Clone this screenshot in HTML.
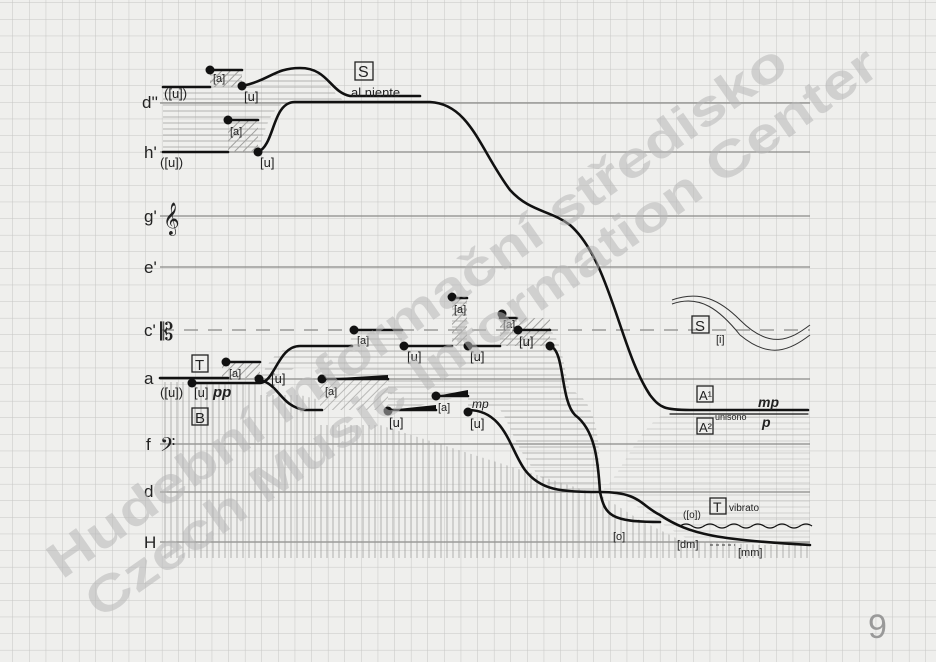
<!DOCTYPE html>
<html><head><style>
html,body{margin:0;padding:0}
body{width:936px;height:662px;background:#efefed;position:relative;overflow:hidden;font-family:"Liberation Sans",sans-serif}
</style></head><body>
<svg width="936" height="662" viewBox="0 0 936 662" xmlns="http://www.w3.org/2000/svg" style="position:absolute;left:0;top:0">
<defs>
<pattern id="grid" x="13" y="3" width="16.6" height="16.6" patternUnits="userSpaceOnUse">
<path d="M16.6 0V16.6M0 16.6H16.6" stroke="#c6c6c4" stroke-width="1" fill="none"/>
</pattern>
<pattern id="vert" width="6" height="10" patternUnits="userSpaceOnUse">
<path d="M3 0V10" stroke="#9a9a98" stroke-width="0.9"/>
</pattern>
<pattern id="hor" width="10" height="6" patternUnits="userSpaceOnUse">
<path d="M0 3H10" stroke="#a5a5a3" stroke-width="0.9"/>
</pattern>
<pattern id="diag" width="6" height="6" patternUnits="userSpaceOnUse" patternTransform="rotate(45)">
<path d="M3 0V6" stroke="#a0a09e" stroke-width="1"/>
</pattern>
</defs>
<rect width="936" height="662" fill="url(#grid)"/>
<g stroke="#8a8a88" stroke-width="1.3">
<line x1="160" y1="103" x2="810" y2="103"/>
<line x1="160" y1="152" x2="810" y2="152"/>
<line x1="160" y1="216" x2="810" y2="216"/>
<line x1="160" y1="267" x2="810" y2="267"/>
<line x1="160" y1="330" x2="810" y2="330" stroke-dasharray="14,10"/>
<line x1="160" y1="379" x2="810" y2="379"/>
<line x1="160" y1="444" x2="810" y2="444"/>
<line x1="160" y1="492" x2="810" y2="492"/>
<line x1="160" y1="542" x2="810" y2="542"/>
</g>
<path d="M163 382 L258 382 L258 395 L300 395 L320 400 L320 425 L380 425 L600 495 L640 520 L680 540 L760 545 L810 545 L810 558 L163 558 Z" fill="url(#vert)" opacity="0.8"/>
<path d="M163 87 L210 87 L210 70 L242 70 L242 85 C270 78 280 68 300 68 C330 68 330 100 350 102 L290 102 C270 102 262 140 258 152 L163 152 Z" fill="url(#hor)" opacity="0.9"/>
<rect x="210" y="70" width="32" height="17" fill="url(#diag)"/>
<rect x="228" y="120" width="30" height="32" fill="url(#diag)"/>
<path d="M260 378 C280 340 290 346 350 346 L352 330 L402 330 L402 346 L452 346 L452 298 L467 298 L467 346 L500 346 L500 318 L517 318 L517 330 L550 330 C565 345 565 380 570 390 C600 400 600 450 600 492 L560 492 C520 470 510 420 500 410 L468 410 L468 395 L400 410 L388 410 L388 380 L320 380 L320 365 C290 362 290 378 260 378 Z" fill="url(#hor)" opacity="0.85"/>
<rect x="222" y="362" width="38" height="16" fill="url(#diag)"/>
<rect x="320" y="380" width="68" height="30" fill="url(#diag)" opacity="0.7"/>
<rect x="452" y="298" width="15" height="48" fill="url(#diag)"/>
<rect x="500" y="318" width="50" height="28" fill="url(#diag)"/>
<path d="M600 492 C630 495 650 520 690 540 L810 545 L810 412 L670 412 C640 420 620 480 600 492 Z" fill="url(#hor)" opacity="0.45"/>
<g stroke="#111" stroke-width="2.6" fill="none" stroke-linecap="round">
<path d="M163 87 H210"/><path d="M210 70 H242"/>
<path d="M242 86 C270 80 275 68 300 68 C328 68 330 92 350 96 H420"/>
<path d="M163 152 H228"/><path d="M228 120 H258"/>
<path d="M258 152 C275 145 272 102 295 102 H430 C470 104 480 150 510 190 C530 212 550 210 570 225 C610 260 620 350 650 395 C660 408 665 410 690 410 H808"/>
<path d="M670 414 H808" stroke-width="1.2"/>
<path d="M160 378 H228"/><path d="M226 362 H260"/>
<path d="M190 383 H260 C275 382 278 346 300 346 H352"/>
<path d="M260 380 C280 385 280 406 305 410 H322" />
<path d="M322 379 H388"/>
<path d="M352 330 H402"/><path d="M402 346 H452"/><path d="M452 298 H467"/>
<path d="M467 346 H500"/><path d="M500 318 H517"/><path d="M517 330 H550"/>
<path d="M550 346 C565 350 560 400 575 415 C595 430 598 460 600 492"/>
<path d="M388 410 H436"/><path d="M436 396 H468"/>
<path d="M468 410 C505 410 510 450 525 470 C540 490 560 492 600 492 C640 492 640 505 660 515 C690 535 720 540 810 545"/>
<path d="M600 492 C605 515 610 522 660 522"/>
</g>
<g fill="#111">
<circle cx="210" cy="70" r="4.5"/><circle cx="242" cy="86" r="4.5"/><circle cx="228" cy="120" r="4.5"/><circle cx="258" cy="152" r="4.5"/>
<circle cx="226" cy="362" r="4.5"/><circle cx="192" cy="383" r="4.5"/><circle cx="259" cy="379" r="4.5"/><circle cx="322" cy="379" r="4.5"/>
<circle cx="354" cy="330" r="4.5"/><circle cx="404" cy="346" r="4.5"/><circle cx="452" cy="297" r="4.5"/><circle cx="468" cy="346" r="4.5"/>
<circle cx="502" cy="314" r="4.5"/><circle cx="518" cy="330" r="4.5"/><circle cx="550" cy="346" r="4.5"/>
<circle cx="388" cy="411" r="4.5"/><circle cx="436" cy="396" r="4.5"/><circle cx="468" cy="412" r="4.5"/>
<polygon points="388,410 436,410 436,405"/><polygon points="436,396 468,396 468,390"/><polygon points="322,379 388,379 388,375"/>
</g>
<g stroke="#333" stroke-width="1" fill="none">
<path d="M672 300 C700 290 720 300 740 320 C770 350 790 340 810 325"/>
<path d="M672 304 C700 294 720 310 740 335 C770 360 790 350 810 335"/>
<path d="M680 526 q6 -4 12 0 t12 0 t12 0 t12 0 t12 0 t12 0 t12 0 t12 0 t12 0 t12 0 t12 0" stroke="#111" stroke-width="1.3"/>
<path d="M710 545 H735" stroke-dasharray="3,3"/>
</g>
<g fill="none" stroke="#222" stroke-width="1.3">
<rect x="355" y="62" width="18" height="18"/><rect x="192" y="355" width="16" height="17"/><rect x="192" y="408" width="16" height="17"/>
<rect x="692" y="316" width="17" height="17"/><rect x="697" y="386" width="16" height="16"/><rect x="697" y="418" width="16" height="16"/><rect x="710" y="498" width="16" height="16"/>
</g>
<g font-family="Liberation Sans, sans-serif" fill="#222" font-size="13">
<text x="358" y="77" font-size="16">S</text><text x="351" y="97">al niente</text>
<text x="195" y="370" font-size="15">T</text><text x="195" y="423" font-size="15">B</text>
<text x="695" y="331" font-size="15">S</text><text x="699" y="400" font-size="13">A¹</text><text x="699" y="432" font-size="13">A²</text><text x="713" y="512" font-size="14">T</text>
<text x="729" y="511" font-size="10">vibrato</text><text x="715" y="420" font-size="9">unisono</text>
<text x="758" y="407" font-style="italic" font-weight="bold" font-size="14">mp</text><text x="762" y="427" font-style="italic" font-weight="bold" font-size="14">p</text>
<text x="472" y="408" font-style="italic" font-size="12">mp</text><text x="213" y="397" font-style="italic" font-weight="bold" font-size="15">pp</text>
<text x="213" y="82" font-size="11">[a]</text><text x="244" y="101">[u]</text><text x="230" y="135" font-size="11">[a]</text><text x="260" y="167">[u]</text>
<text x="164" y="98">([u])</text><text x="160" y="167">([u])</text>
<text x="229" y="377" font-size="11">[a]</text><text x="194" y="397">[u]</text><text x="160" y="397">([u])</text><text x="271" y="383">[u]</text>
<text x="325" y="395" font-size="11">[a]</text><text x="357" y="344" font-size="11">[a]</text><text x="407" y="361">[u]</text><text x="454" y="313" font-size="11">[a]</text>
<text x="470" y="361">[u]</text><text x="503" y="328" font-size="11">[a]</text><text x="519" y="346">[u]</text>
<text x="389" y="427">[u]</text><text x="438" y="411" font-size="11">[a]</text><text x="470" y="428">[u]</text>
<text x="716" y="343" font-size="11">[i]</text><text x="613" y="540" font-size="11">[o]</text><text x="677" y="548" font-size="11">[dm]</text><text x="738" y="556" font-size="11">[mm]</text><text x="683" y="518" font-size="10">([o])</text>
<text x="142" y="108" font-size="17">d''</text><text x="144" y="158" font-size="17">h'</text><text x="144" y="222" font-size="17">g'</text><text x="144" y="273" font-size="17">e'</text>
<text x="144" y="336" font-size="17">c'</text><text x="144" y="384" font-size="17">a</text><text x="146" y="450" font-size="17">f</text><text x="144" y="497" font-size="17">d</text><text x="144" y="548" font-size="17">H</text>
<text x="163" y="228" font-size="28">𝄞</text><text x="160" y="340" font-size="24">𝄡</text><text x="160" y="455" font-size="24">𝄢</text>
<text x="868" y="638" font-size="34" fill="#999">9</text>
</g>
<g font-family="Liberation Sans, sans-serif" font-weight="bold" fill="#b8b8b8" opacity="0.55">
<text x="62" y="580" font-size="50" transform="rotate(-35 62 580)" textLength="890" lengthAdjust="spacingAndGlyphs">Hudební informační středisko</text>
<text x="100" y="620" font-size="50" transform="rotate(-35 100 620)" textLength="955" lengthAdjust="spacingAndGlyphs">Czech Music Information Center</text>
</g>
</svg>
</body></html>
